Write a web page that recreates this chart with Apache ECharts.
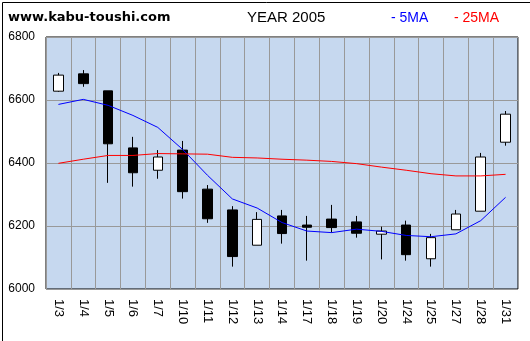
<!DOCTYPE html>
<html>
<head>
<meta charset="utf-8">
<script src="https://cdn.jsdelivr.net/npm/echarts@6/dist/echarts.min.js"></script>
<style>
  html, body { margin: 0; padding: 0; background: #fff; }
  #chart { width: 530px; height: 341px; }
</style>
</head>
<body>
<div id="chart"></div>
<script>
// Trading days, January 2005
var dates = ['1/3','1/4','1/5','1/6','1/7','1/10','1/11','1/12','1/13','1/14',
             '1/17','1/18','1/19','1/20','1/24','1/25','1/27','1/28','1/31'];

// Daily prices
var opens  = [6628, 6683, 6629, 6448, 6377, 6441, 6317, 6251, 6139, 6232,
              6203, 6222, 6213, 6174, 6203, 6096, 6188, 6247, 6466];
var closes = [6679, 6652, 6461, 6369, 6419, 6309, 6223, 6103, 6221, 6176,
              6196, 6195, 6177, 6184, 6109, 6163, 6238, 6419, 6555];
var lows   = [6626, 6642, 6337, 6325, 6350, 6287, 6210, 6071, 6139, 6144,
              6090, 6179, 6163, 6094, 6090, 6071, 6188, 6247, 6455];
var highs  = [6686, 6695, 6629, 6483, 6441, 6470, 6330, 6263, 6244, 6251,
              6232, 6267, 6232, 6198, 6217, 6175, 6251, 6432, 6565];

// Moving averages
var ma5  = [6586, 6602, 6583, 6551, 6513, 6443, 6361, 6286, 6257, 6211,
            6184, 6179, 6190, 6183, 6170, 6166, 6175, 6217, 6291];
var ma25 = [6399, 6412, 6424, 6424, 6430, 6429, 6428, 6418, 6416, 6412,
            6409, 6405, 6398, 6387, 6377, 6366, 6359, 6359, 6364];

// Price axis ticks
var yTicks = [6000, 6200, 6400, 6600, 6800];

var candles = dates.map(function (d, i) {
  return [opens[i], closes[i], lows[i], highs[i]];
});

var chart = echarts.init(document.getElementById('chart'), null, { renderer: 'canvas' });

chart.setOption({
  animation: false,
  backgroundColor: '#ffffff',
  textStyle: { fontFamily: 'Liberation Sans, Arial, sans-serif' },
  grid: {
    left: 46, top: 37, width: 472, height: 252,
    show: true,
    backgroundColor: '#c6d8ef',
    borderColor: '#000000',
    borderWidth: 1
  },
  graphic: [
    { type: 'rect', left: 0, top: 0, z: 100, silent: true,
      shape: { width: 529, height: 340 },
      style: { fill: 'none', stroke: '#000000', lineWidth: 1 } },
    { type: 'text', left: 8, top: 11,
      style: { text: 'www.kabu-toushi.com', fill: '#000', fontSize: 13, fontWeight: 'bold',
               fontFamily: 'DejaVu Sans, Verdana, sans-serif' } },
    { type: 'text', left: 247, top: 10,
      style: { text: 'YEAR 2005', fill: '#000', fontSize: 15,
               fontFamily: 'Liberation Sans, Arial, sans-serif' } },
    { type: 'text', left: 391, top: 11,
      style: { text: '- 5MA', fill: '#0000ff', fontSize: 14,
               fontFamily: 'Liberation Sans, Arial, sans-serif' } },
    { type: 'text', left: 454, top: 11,
      style: { text: '- 25MA', fill: '#ff0000', fontSize: 14,
               fontFamily: 'Liberation Sans, Arial, sans-serif' } }
  ],
  xAxis: {
    type: 'category',
    data: dates,
    boundaryGap: true,
    axisLine: { show: false },
    axisTick: { show: false },
    axisLabel: { rotate: -90, margin: 10, color: '#000', fontSize: 13,
                 fontFamily: 'Liberation Sans, Arial, sans-serif' },
    splitLine: { show: true, lineStyle: { color: '#999999', width: 1 } }
  },
  yAxis: {
    type: 'value',
    min: yTicks[0],
    max: yTicks[yTicks.length - 1],
    interval: 200,
    axisLine: { show: false },
    axisTick: { show: false },
    axisLabel: { color: '#000', fontSize: 12, margin: 11,
                 fontFamily: 'Liberation Sans, Arial, sans-serif',
                 formatter: function (v) { return String(v); } },
    splitLine: { show: true, lineStyle: { color: '#999999', width: 1 } }
  },
  series: [
    {
      type: 'candlestick',
      data: candles,
      barWidth: 10,
      itemStyle: {
        color: '#ffffff', borderColor: '#000000',
        color0: '#000000', borderColor0: '#000000',
        borderWidth: 1
      },
      z: 3
    },
    {
      name: '5MA', type: 'line', data: ma5, symbol: 'none', smooth: false,
      lineStyle: { color: '#0000ff', width: 1 }, z: 4
    },
    {
      name: '25MA', type: 'line', data: ma25, symbol: 'none', smooth: false,
      lineStyle: { color: '#ff0000', width: 1 }, z: 4
    }
  ]
});
</script>
</body>
</html>
